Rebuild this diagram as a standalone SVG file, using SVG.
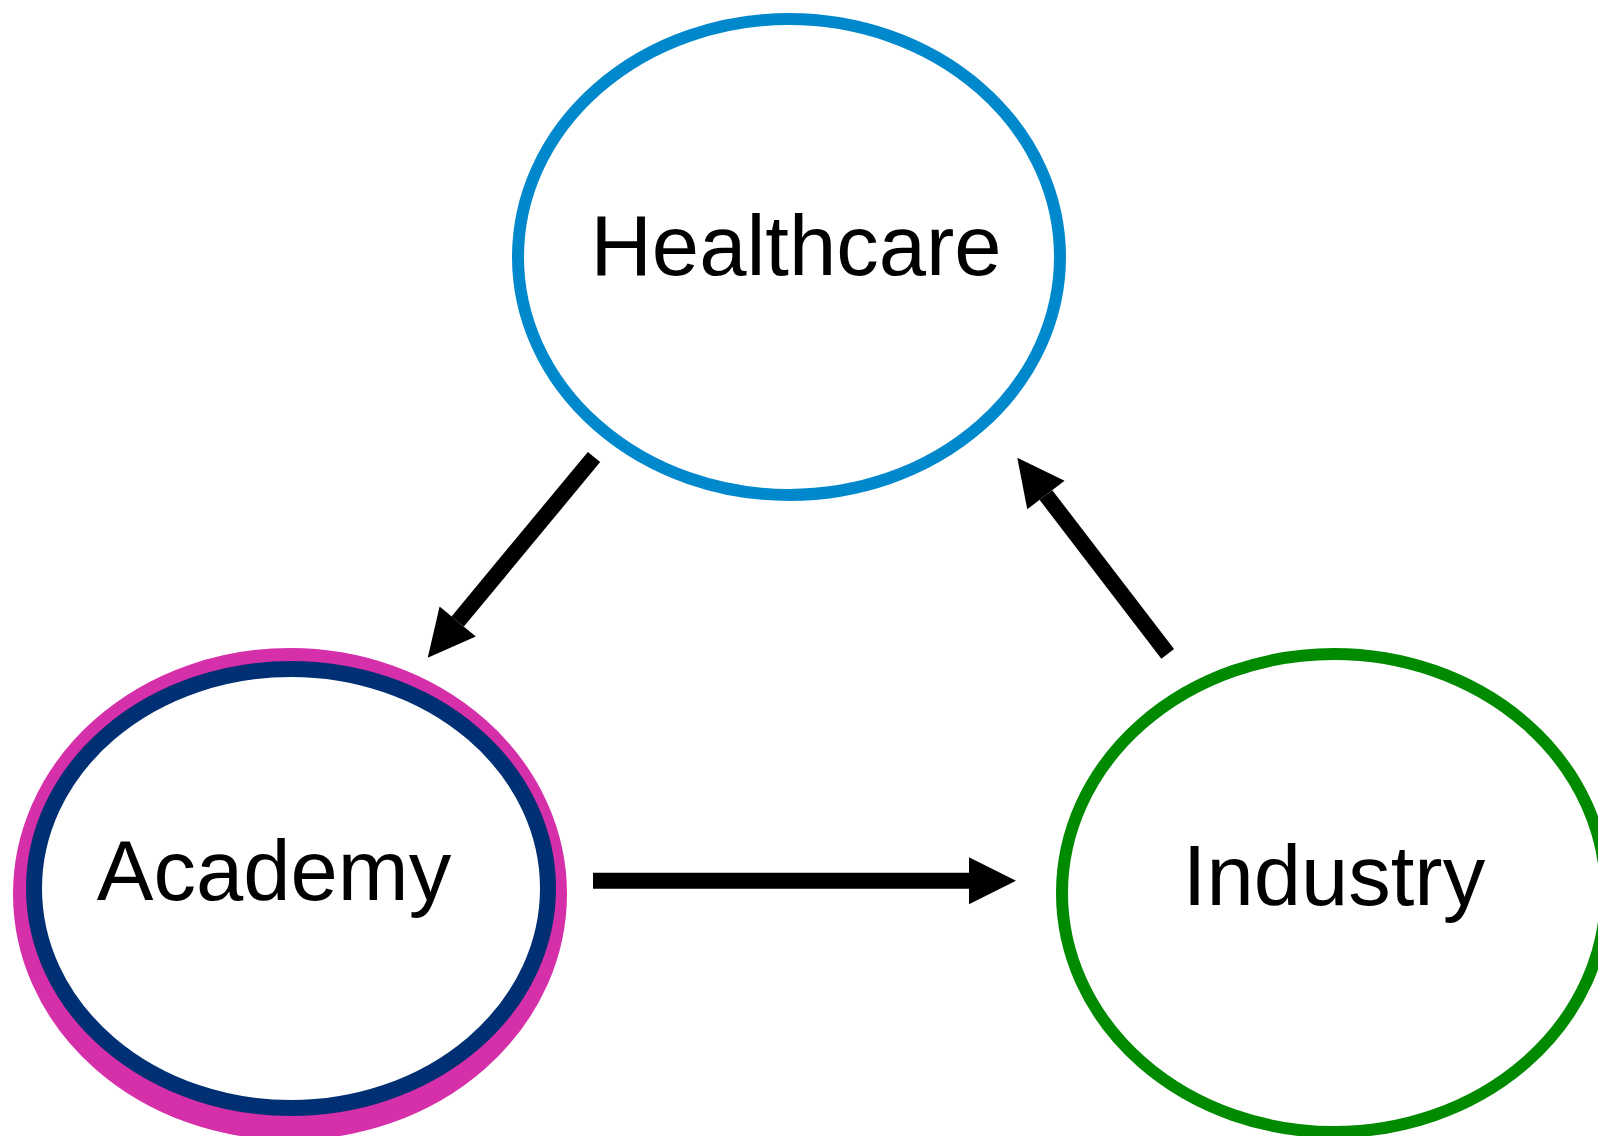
<svg xmlns="http://www.w3.org/2000/svg" width="1598" height="1136" viewBox="0 0 1598 1136">
  <style>
    .lbl { font-family: "Liberation Sans", Arial, sans-serif; font-size: 85px; fill: #000; text-anchor: middle; }
    .node { fill: #ffffff; stroke-width: 12; }
    .edge { stroke: #000; stroke-width: 16; fill: none; stroke-linecap: butt; marker-end: url(#arrow); }
  </style>
  <defs>
    <marker id="arrow" markerUnits="userSpaceOnUse" markerWidth="47" markerHeight="47" refX="0" refY="23.5" orient="auto" overflow="visible">
      <path d="M0,0 L47,23.5 L0,47 Z" fill="#000"/>
    </marker>
  </defs>
  <rect width="1598" height="1136" fill="#ffffff"/>
  <g id="healthcare">
    <ellipse class="node" cx="789" cy="257" rx="271" ry="238" stroke="#0088CC"/>
    <text class="lbl" x="796" y="275">Healthcare</text>
  </g>
  <g id="academy">
    <ellipse cx="290" cy="894" rx="271" ry="240" fill="#D62FAA" stroke="#D62FAA" stroke-width="12"/>
    <ellipse cx="291" cy="888.5" rx="257" ry="219.5" fill="#ffffff" stroke="#003073" stroke-width="16"/>
    <text class="lbl" x="274" y="900">Academy</text>
  </g>
  <g id="industry">
    <ellipse class="node" cx="1334" cy="893" rx="272" ry="239" stroke="#008A00"/>
    <text class="lbl" x="1334" y="905">Industry</text>
  </g>
  <g id="connectors">
    <line class="edge" x1="594" y1="457" x2="457.7" y2="621.5"/>
    <line class="edge" x1="593" y1="880.7" x2="969" y2="880.7"/>
    <line class="edge" x1="1167.7" y1="653.8" x2="1045.9" y2="495"/>
  </g>
</svg>
